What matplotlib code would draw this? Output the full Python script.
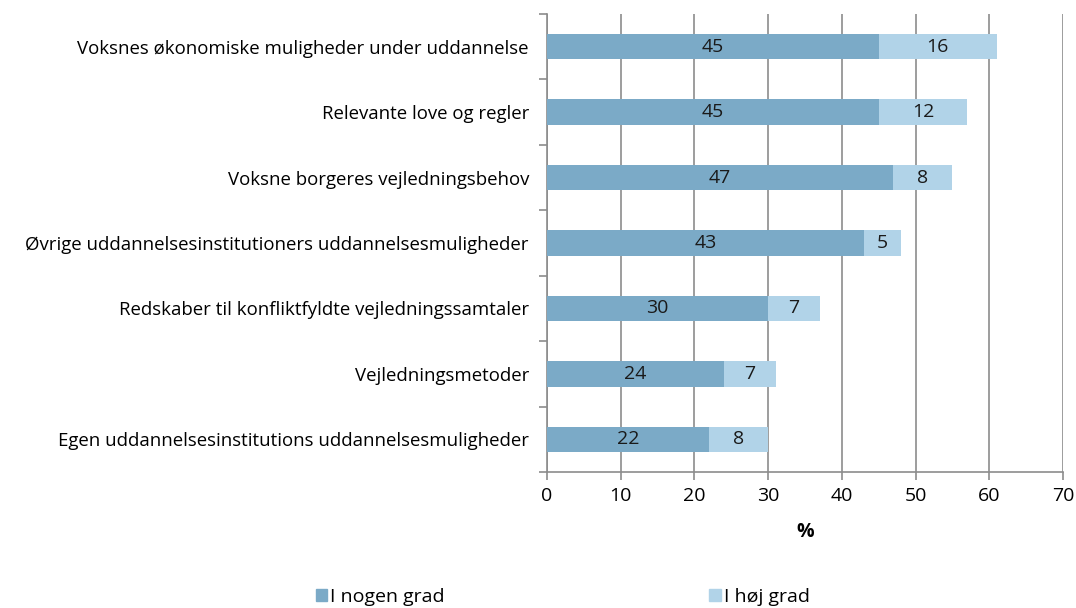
import matplotlib
matplotlib.use("Agg")
import matplotlib.pyplot as plt
from matplotlib.patches import Patch

categories = [
    "Voksnes økonomiske muligheder under uddannelse",
    "Relevante love og regler",
    "Voksne borgeres vejledningsbehov",
    "Øvrige uddannelsesinstitutioners uddannelsesmuligheder",
    "Redskaber til konfliktfyldte vejledningssamtaler",
    "Vejledningsmetoder",
    "Egen uddannelsesinstitutions uddannelsesmuligheder",
]
nogen = [45, 45, 47, 43, 30, 24, 22]
hoej = [16, 12, 8, 5, 7, 7, 8]
series_names = ["I nogen grad", "I høj grad"]
xticks = [0, 10, 20, 30, 40, 50, 60, 70]

c1 = "#7BAAC7"
c2 = "#B1D3E8"
grid_c = "#8C8C8C"
fs = 14

plt.rcParams['font.family'] = ['Open Sans', 'DejaVu Sans']
fig = plt.figure(figsize=(10.76, 6.08), dpi=100)
ax = fig.add_axes([547/1076, 1-472/608, (1063-547)/1076, (472-14)/608])

n = len(categories)
ys = list(range(n))
h = 0.39
ax.barh(ys, nogen, height=h, color=c1, zorder=3)
ax.barh(ys, hoej, left=nogen, height=h, color=c2, zorder=3)
for y, a, b in zip(ys, nogen, hoej):
    ax.text(a/2, y, str(a), ha='center', va='center', fontsize=fs, color='#1a1a1a', zorder=4)
    ax.text(a + b/2, y, str(b), ha='center', va='center', fontsize=fs, color='#1a1a1a', zorder=4)

ax.set_ylim(n - 0.5, -0.5)
ax.set_xlim(0, 70)
ax.set_xticks(xticks)
ax.set_xticklabels([str(t) for t in xticks], fontsize=fs)
ax.set_yticks(ys)
ax.set_yticklabels(categories, fontsize=13.4)
ax.tick_params(axis='y', length=0, pad=13)
ax.set_yticks([i - 0.5 for i in range(n + 1)], minor=True)
ax.tick_params(axis='y', which='minor', length=6, color=grid_c, width=1.2)
ax.tick_params(axis='x', length=6, color=grid_c, width=1.2, pad=5)
ax.grid(axis='x', color=grid_c, linewidth=1.2, zorder=0)
for s in ['top', 'right']:
    ax.spines[s].set_visible(False)
for s in ['left', 'bottom']:
    ax.spines[s].set_color(grid_c)
    ax.spines[s].set_linewidth(1.2)
ax.set_xlabel("%", fontsize=fs, fontweight='bold', labelpad=12)

handles = [Patch(color=c1), Patch(color=c2)]
fig.legend(handles, series_names, loc='center', bbox_to_anchor=(0.523, 1-597/608),
           ncol=2, frameon=False, fontsize=fs, columnspacing=13.6,
           handlelength=0.6, handleheight=0.6, handletextpad=0.15)

fig.savefig("out.png", dpi=100)
